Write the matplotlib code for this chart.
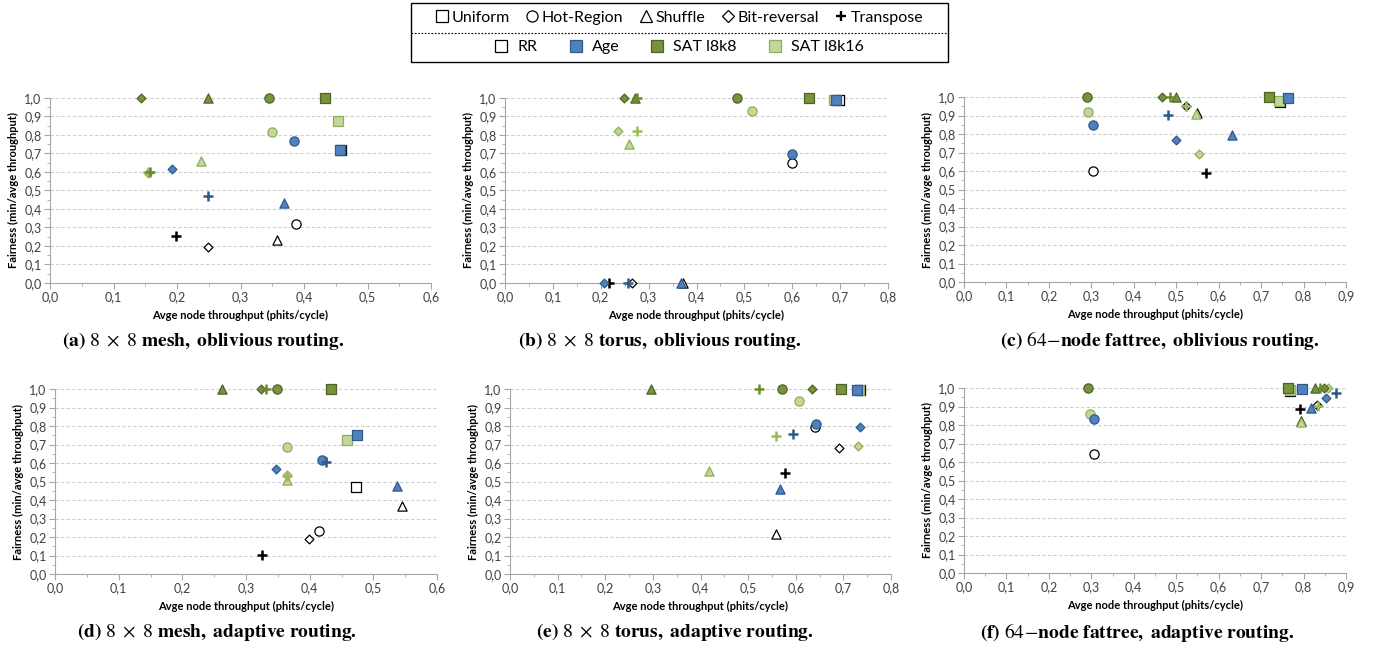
import matplotlib
matplotlib.use("Agg")
import matplotlib.pyplot as plt
from matplotlib.lines import Line2D
from matplotlib.patches import Rectangle
from matplotlib.ticker import MultipleLocator, FuncFormatter

plt.rcParams['font.family'] = ['Lato', 'DejaVu Sans']
plt.rcParams['mathtext.fontset'] = 'stix'

patterns = ['Uniform', 'Hot-Region', 'Shuffle', 'Bit-reversal', 'Transpose']
arbiters = ['RR', 'Age', 'SAT l8k8', 'SAT l8k16']

# values per subplot, per arbiter, in pattern order (U, H, S, B, T)
mesh_obl_x = {'RR': [0.458, 0.387, 0.358, 0.249, 0.198],
              'Age': [0.456, 0.385, 0.368, 0.192, 0.249],
              'SAT l8k8': [0.433, 0.345, 0.249, 0.143, 0.157],
              'SAT l8k16': [0.453, 0.350, 0.238, 0.155, 0.155]}
mesh_obl_y = {'RR': [0.717, 0.320, 0.235, 0.195, 0.253],
              'Age': [0.717, 0.765, 0.430, 0.614, 0.471],
              'SAT l8k8': [1.0, 1.0, 1.0, 1.0, 0.600],
              'SAT l8k16': [0.874, 0.818, 0.661, 0.597, 0.600]}

torus_obl_x = {'RR': [0.697, 0.599, 0.372, 0.265, 0.217],
               'Age': [0.692, 0.599, 0.367, 0.206, 0.256],
               'SAT l8k8': [0.636, 0.484, 0.272, 0.249, 0.275],
               'SAT l8k16': [0.688, 0.516, 0.258, 0.235, 0.275]}
torus_obl_y = {'RR': [0.990, 0.646, 0.0, 0.0, 0.0],
               'Age': [0.990, 0.697, 0.0, 0.0, 0.0],
               'SAT l8k8': [1.0, 1.0, 1.0, 1.0, 1.0],
               'SAT l8k16': [0.990, 0.931, 0.752, 0.819, 0.819]}

fat_obl_x = {'RR': [0.745, 0.303, 0.548, 0.524, 0.569],
             'Age': [0.764, 0.305, 0.631, 0.500, 0.480],
             'SAT l8k8': [0.719, 0.290, 0.500, 0.467, 0.485],
             'SAT l8k16': [0.743, 0.293, 0.546, 0.553, 0.524]}
fat_obl_y = {'RR': [0.975, 0.602, 0.913, 0.953, 0.591],
             'Age': [0.995, 0.849, 0.793, 0.766, 0.905],
             'SAT l8k8': [1.0, 1.0, 1.0, 1.0, 1.0],
             'SAT l8k16': [0.977, 0.917, 0.910, 0.690, 0.953]}

mesh_ada_x = {'RR': [0.472, 0.415, 0.545, 0.399, 0.325],
              'Age': [0.475, 0.420, 0.537, 0.347, 0.426],
              'SAT l8k8': [0.434, 0.349, 0.262, 0.323, 0.331],
              'SAT l8k16': [0.458, 0.364, 0.364, 0.364, 0.364]}
mesh_ada_y = {'RR': [0.469, 0.232, 0.367, 0.187, 0.103],
              'Age': [0.753, 0.616, 0.477, 0.568, 0.607],
              'SAT l8k8': [1.0, 1.0, 1.0, 1.0, 1.0],
              'SAT l8k16': [0.722, 0.686, 0.510, 0.537, 0.530]}

torus_ada_x = {'RR': [0.734, 0.640, 0.558, 0.691, 0.578],
               'Age': [0.729, 0.643, 0.566, 0.734, 0.594],
               'SAT l8k8': [0.696, 0.571, 0.296, 0.634, 0.522],
               'SAT l8k16': [0.732, 0.607, 0.418, 0.730, 0.558]}
torus_ada_y = {'RR': [0.996, 0.795, 0.218, 0.679, 0.548],
               'Age': [0.996, 0.812, 0.461, 0.795, 0.759],
               'SAT l8k8': [1.0, 1.0, 1.0, 1.0, 1.0],
               'SAT l8k16': [0.996, 0.933, 0.558, 0.690, 0.748]}

fat_ada_x = {'RR': [0.769, 0.306, 0.794, 0.832, 0.791],
             'Age': [0.797, 0.307, 0.818, 0.853, 0.877],
             'SAT l8k8': [0.763, 0.293, 0.826, 0.848, 0.838],
             'SAT l8k16': [0.767, 0.297, 0.793, 0.858, 0.835]}
fat_ada_y = {'RR': [0.985, 0.644, 0.820, 0.910, 0.885],
             'Age': [0.993, 0.835, 0.894, 0.944, 0.973],
             'SAT l8k8': [1.0, 1.0, 1.0, 1.0, 1.0],
             'SAT l8k16': [0.988, 0.862, 0.817, 1.0, 0.905]}

captions = [r'$\mathbf{(a)}\ 8\ \times\ 8\ \mathbf{mesh,\ oblivious\ routing.}$',
            r'$\mathbf{(b)}\ 8\ \times\ 8\ \mathbf{torus,\ oblivious\ routing.}$',
            r'$\mathbf{(c)}\ 64\!-\!\mathbf{node\ fattree,\ oblivious\ routing.}$',
            r'$\mathbf{(d)}\ 8\ \times\ 8\ \mathbf{mesh,\ adaptive\ routing.}$',
            r'$\mathbf{(e)}\ 8\ \times\ 8\ \mathbf{torus,\ adaptive\ routing.}$',
            r'$\mathbf{(f)}\ 64\!-\!\mathbf{node\ fattree,\ adaptive\ routing.}$']
xmaxes = [0.6, 0.8, 0.9, 0.6, 0.8, 0.9]
datasets = [(mesh_obl_x, mesh_obl_y), (torus_obl_x, torus_obl_y), (fat_obl_x, fat_obl_y),
            (mesh_ada_x, mesh_ada_y), (torus_ada_x, torus_ada_y), (fat_ada_x, fat_ada_y)]

markers = {'Uniform': 's', 'Hot-Region': 'o', 'Shuffle': '^', 'Bit-reversal': 'D', 'Transpose': '+'}
msize = {'Uniform': 44, 'Hot-Region': 44, 'Shuffle': 44, 'Bit-reversal': 20, 'Transpose': 42}
face = {'RR': 'white', 'Age': '#4F81BD', 'SAT l8k8': '#77933C', 'SAT l8k16': '#C3D69B'}
edge = {'RR': 'black', 'Age': '#2F5A8E', 'SAT l8k8': '#4F6228', 'SAT l8k16': '#8FAE55'}
plus_col = {'RR': 'black', 'Age': '#2F5A8E', 'SAT l8k8': '#6A8A30', 'SAT l8k16': '#9BBB59'}
zo = {'RR': 3, 'SAT l8k16': 4, 'SAT l8k8': 5, 'Age': 6}

W, H = 1375, 647
# axes boxes in pixels: left, right, top, bottom
boxes = [(50, 431, 98, 283), (505, 888, 98, 283), (964, 1346, 97, 282),
         (55, 437, 389, 574), (510, 891, 389, 574), (964, 1346, 388, 573)]
cap_pos = [(203, 341), (660, 341), (1160, 341), (217, 632), (675, 632), (1137, 632)]

fig = plt.figure(figsize=(W / 100, H / 100), dpi=100)

comma = FuncFormatter(lambda v, p: ('%.1f' % v).replace('.', ','))

for i, (dx, dy) in enumerate(datasets):
    l, r, t, b = boxes[i]
    ax = fig.add_axes([l / W, 1 - b / H, (r - l) / W, (b - t) / H])
    for arb in arbiters:
        for j, pat in enumerate(patterns):
            if pat == 'Transpose':
                ax.scatter(dx[arb][j], dy[arb][j], marker='+', s=msize[pat],
                           color=plus_col[arb], linewidths=1.8, zorder=zo[arb], clip_on=False)
            else:
                ax.scatter(dx[arb][j], dy[arb][j], marker=markers[pat], s=msize[pat],
                           facecolor=face[arb], edgecolor=edge[arb], linewidths=0.9,
                           zorder=zo[arb], clip_on=False)
    ax.set_xlim(0, xmaxes[i])
    ax.set_ylim(0, 1.0)
    ax.xaxis.set_major_locator(MultipleLocator(0.1))
    ax.xaxis.set_minor_locator(MultipleLocator(0.05))
    ax.yaxis.set_major_locator(MultipleLocator(0.1))
    ax.yaxis.set_minor_locator(MultipleLocator(0.05))
    ax.xaxis.set_major_formatter(comma)
    ax.yaxis.set_major_formatter(comma)
    ax.yaxis.grid(True, which='major', color='#CFCFCF', linestyle=(0, (3, 2)), linewidth=0.8)
    ax.set_axisbelow(True)
    for s in ['top', 'right']:
        ax.spines[s].set_visible(False)
    for s in ['left', 'bottom']:
        ax.spines[s].set_color('#A6A6A6')
        ax.spines[s].set_linewidth(0.8)
    ax.tick_params(which='major', direction='out', length=4, color='#A6A6A6',
                   labelsize=9, labelcolor='#404040', pad=2)
    ax.tick_params(which='minor', direction='out', length=2.5, color='#A6A6A6')
    ax.set_xlabel('Avge node throughput (phits/cycle)', fontsize=8, fontweight='bold', labelpad=5)
    ax.set_ylabel('Fairness (min/avge throughput)', fontsize=8, fontweight='bold', labelpad=4)
    cx, cy = cap_pos[i]
    fig.text(cx / W, 1 - cy / H, captions[i], fontsize=14, ha='center', va='center')

# legend box
lax = fig.add_axes([411 / W, 1 - 62 / H, 537 / W, 59 / H])
lax.set_xlim(0, 1)
lax.set_ylim(0, 1)
lax.axis('off')
lax.add_patch(Rectangle((0, 0), 1, 1, fill=False, edgecolor='black', linewidth=1.0,
                        transform=lax.transAxes, clip_on=False))
lax.plot([0, 1], [0.5, 0.5], color='black', linestyle=(0, (1.5, 1.5)), linewidth=0.8)

pat_handles = []
for pat in patterns:
    if pat == 'Transpose':
        h = Line2D([], [], linestyle='none', marker='+', markersize=7, color='black',
                   markeredgewidth=1.7)
    else:
        ms = 6 if pat == 'Bit-reversal' else 8
        h = Line2D([], [], linestyle='none', marker=markers[pat], markersize=ms,
                   markerfacecolor='white', markeredgecolor='black', markeredgewidth=0.9)
    pat_handles.append(h)
leg1 = lax.legend(pat_handles, patterns, loc='center', bbox_to_anchor=(0.5, 0.75), ncol=5,
                  frameon=False, fontsize=11.5, handlelength=0.8, handletextpad=0.2,
                  columnspacing=1.0, borderaxespad=0)
lax.add_artist(leg1)

arb_handles = [Line2D([], [], linestyle='none', marker='s', markersize=8,
                      markerfacecolor=face[a], markeredgecolor=edge[a] if a != 'RR' else 'black',
                      markeredgewidth=0.9) for a in arbiters]
lax.legend(arb_handles, arbiters, loc='center', bbox_to_anchor=(0.5, 0.25), ncol=4,
           frameon=False, fontsize=11.5, handlelength=0.8, handletextpad=0.6,
           columnspacing=2.0, borderaxespad=0)

fig.savefig('out.png', dpi=100)
